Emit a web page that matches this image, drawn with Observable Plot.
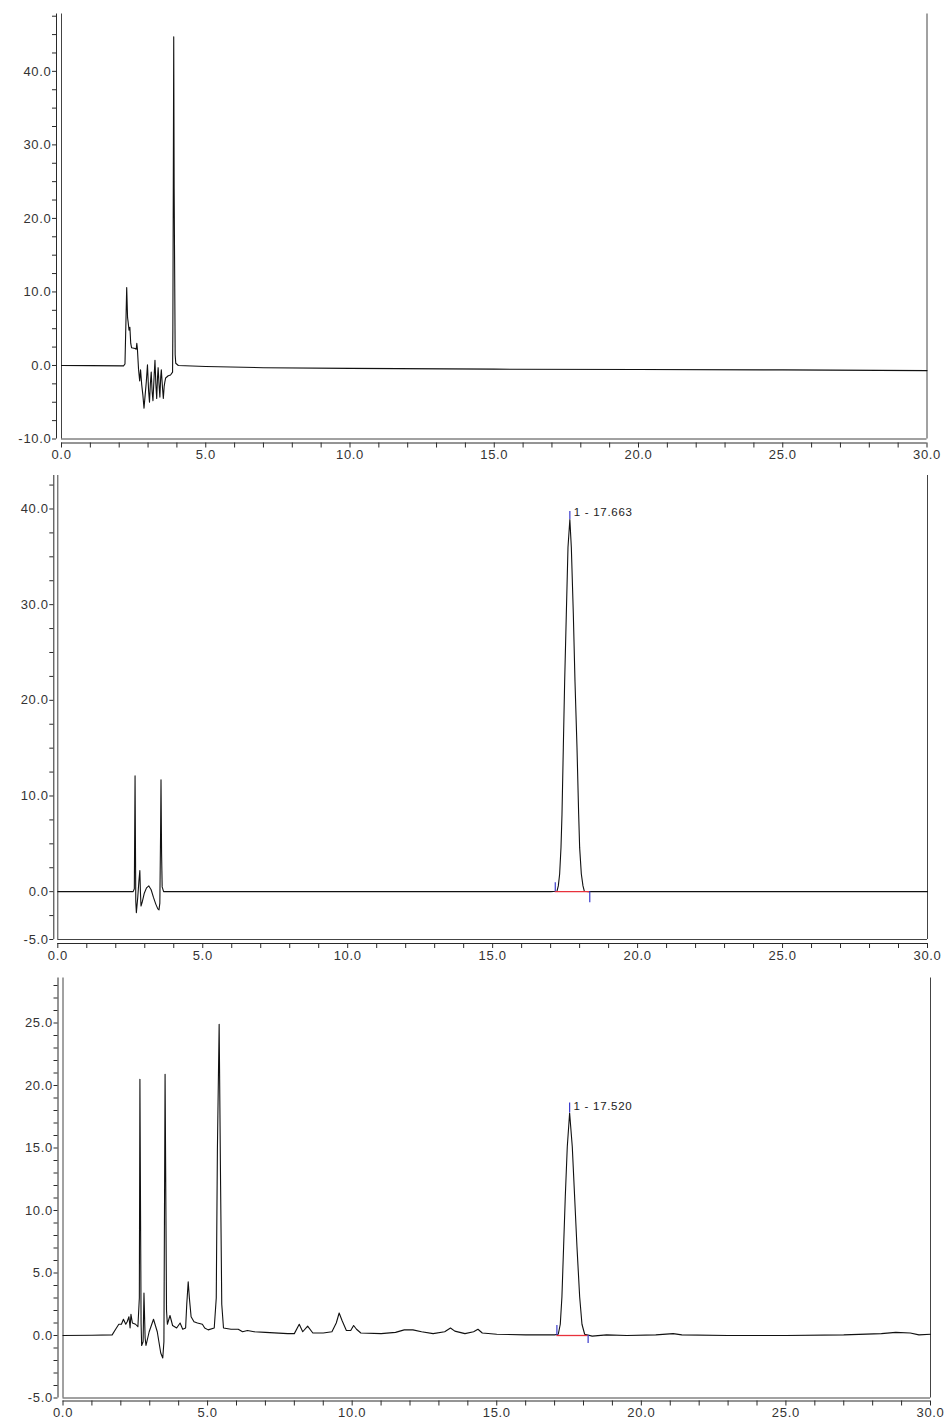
<!DOCTYPE html>
<html>
<head>
<meta charset="utf-8">
<script src="https://cdn.jsdelivr.net/npm/d3@7"></script>
<script src="https://cdn.jsdelivr.net/npm/@observablehq/plot@0.6"></script>
<style>
  body { margin: 0; background: #fff; }
  svg { display: block; }
  svg text { letter-spacing: 0.7px; }
</style>
</head>
<body>
<div id="p1"></div>
<div id="p2"></div>
<div id="p3"></div>
<script>
// ---------- Data (retention time in min, signal in mAU) ----------
// Panel 1: blank
const blankTime = [0, 1.0, 2.15, 2.2, 2.26, 2.29, 2.31, 2.34, 2.37, 2.40, 2.43, 2.55, 2.59, 2.61, 2.63, 2.67, 2.71, 2.74, 2.78, 2.82, 2.86, 2.90, 2.94, 2.98, 3.02, 3.05, 3.08, 3.11, 3.14, 3.17, 3.21, 3.24, 3.27, 3.30, 3.33, 3.35, 3.38, 3.41, 3.44, 3.46, 3.50, 3.53, 3.56, 3.58, 3.61, 3.64, 3.70, 3.78, 3.85, 3.86, 3.875, 3.89, 3.905, 3.92, 3.94, 3.96, 4.05, 5, 7, 10, 15, 20, 25, 30];
const blankSignal = [0, -0.02, -0.05, 0.2, 10.6, 6.5, 5.9, 4.8, 5.2, 3.0, 2.4, 2.3, 2.2, 3.0, 2.3, -0.5, -2.1, -0.6, -2.6, -4.0, -5.8, -4.0, -2.2, 0.1, -3.5, -5.0, -2.5, -0.9, -3.5, -4.8, -1.5, 0.7, -2.5, -4.5, -1.5, -0.3, -2.5, -4.3, -1.5, -0.6, -3.0, -4.5, -2.8, -2.3, -1.7, -1.6, -1.4, -1.3, -0.9, 5.0, 24, 44.7, 24, 14, 1.5, 0.3, 0.0, -0.15, -0.3, -0.4, -0.5, -0.55, -0.6, -0.7];

// Panel 2: standard
const stdTime = [0, 2.60, 2.64, 2.665, 2.69, 2.71, 2.76, 2.80, 2.83, 2.85, 2.87, 2.92, 2.98, 3.06, 3.14, 3.22, 3.30, 3.38, 3.45, 3.49, 3.52, 3.545, 3.56, 3.58, 3.60, 3.65, 10, 17.0, 17.219, 17.265, 17.311, 17.357, 17.392, 17.438, 17.484, 17.541, 17.599, 17.663, 17.714, 17.783, 17.840, 17.909, 17.967, 18.001, 18.059, 18.116, 18.162, 18.3, 25, 30];
const stdSignal = [0, 0, 0.3, 12.1, -1.0, -2.2, -0.5, 1.2, 2.2, 0, -1.5, -1.0, -0.2, 0.4, 0.6, 0.2, -0.6, -1.3, -1.8, -1.9, -1.2, 6, 11.7, 4, 0.5, 0, 0, 0, 0.05, 0.6, 1.85, 4.6, 8.1, 15.1, 22.0, 29.0, 36.0, 38.9, 36.0, 29.0, 22.0, 15.1, 8.1, 4.6, 1.85, 0.6, 0.05, 0, 0, 0];

// Panel 3: sample
const sampleTime = [0, 1.0, 1.70, 1.82, 1.93, 2.02, 2.09, 2.17, 2.22, 2.28, 2.32, 2.35, 2.40, 2.51, 2.59, 2.64, 2.66, 2.70, 2.72, 2.77, 2.80, 2.84, 2.87, 2.98, 3.13, 3.26, 3.38, 3.45, 3.49, 3.53, 3.58, 3.61, 3.70, 3.79, 3.86, 3.93, 4.05, 4.14, 4.24, 4.28, 4.33, 4.37, 4.43, 4.53, 4.65, 4.82, 4.90, 5.02, 5.23, 5.30, 5.34, 5.40, 5.45, 5.49, 5.55, 5.81, 6.06, 6.21, 6.38, 6.61, 7.0, 7.77, 8.0, 8.17, 8.29, 8.46, 8.64, 9.0, 9.3, 9.45, 9.55, 9.65, 9.8, 9.95, 10.05, 10.15, 10.3, 11.0, 11.5, 11.8, 12.1, 12.4, 12.8, 13.2, 13.4, 13.55, 13.9, 14.2, 14.35, 14.5, 15, 16, 17.0, 17.127, 17.197, 17.254, 17.312, 17.370, 17.439, 17.52, 17.612, 17.693, 17.774, 17.867, 17.947, 18.04, 18.3, 18.8, 19.5, 20.5, 21.1, 21.4, 23, 25, 27, 28.3, 28.8, 29.3, 29.6, 30];
const sampleSignal = [0, 0.02, 0.05, 0.5, 0.9, 0.9, 1.3, 0.9, 1.1, 1.5, 0.6, 1.7, 1.0, 0.9, 0.7, 3, 20.5, 1.0, -0.8, -0.5, 3.4, -0.2, -0.8, 0.3, 1.3, 0.3, -1.4, -1.8, -0.5, 20.9, 2.0, 0.9, 1.6, 0.8, 0.7, 0.6, 1.0, 0.5, 0.6, 2.5, 4.3, 3.0, 1.5, 1.1, 1.0, 0.9, 0.6, 0.45, 0.6, 3, 15, 24.9, 12, 2.5, 0.6, 0.5, 0.5, 0.3, 0.4, 0.3, 0.25, 0.15, 0.15, 0.9, 0.3, 0.75, 0.2, 0.2, 0.3, 1.0, 1.8, 1.2, 0.4, 0.4, 0.8, 0.5, 0.2, 0.15, 0.25, 0.45, 0.45, 0.3, 0.15, 0.3, 0.6, 0.35, 0.15, 0.3, 0.5, 0.2, 0.1, 0.05, 0.05, 0.1, 0.9, 3.1, 7.1, 11.1, 15.1, 17.8, 15.1, 11.1, 7.1, 3.1, 0.9, 0.1, -0.05, 0.05, 0.0, 0.05, 0.15, 0.05, 0.0, 0.0, 0.05, 0.15, 0.25, 0.2, 0.05, 0.1];

// Integrated peaks: label, retention time, height, integration start, end
const stdPeakLabel = ["1 - 17.663"];
const stdPeakRT = [17.663];
const stdPeakHeight = [38.9];
const stdPeakStart = [17.16];
const stdPeakEnd = [18.35];

const samplePeakLabel = ["1 - 17.520"];
const samplePeakRT = [17.52];
const samplePeakHeight = [17.8];
const samplePeakStart = [17.08];
const samplePeakEnd = [18.16];

// Tick values
const xTicks = [0,1,2,3,4,5,6,7,8,9,10,11,12,13,14,15,16,17,18,19,20,21,22,23,24,25,26,27,28,29,30];
const xLabels = [0, 5, 10, 15, 20, 25, 30];
const blankYTicks = [-10,-7.5,-5,-2.5,0,2.5,5,7.5,10,12.5,15,17.5,20,22.5,25,27.5,30,32.5,35,37.5,40,42.5,45,47.5];
const blankYLabels = [-10, 0, 10, 20, 30, 40];
const stdYTicks = [-5,-2.5,0,2.5,5,7.5,10,12.5,15,17.5,20,22.5,25,27.5,30,32.5,35,37.5,40,42.5];
const stdYLabels = [-5, 0, 10, 20, 30, 40];
const sampleYTicks = [-5,-4,-3,-2,-1,0,1,2,3,4,5,6,7,8,9,10,11,12,13,14,15,16,17,18,19,20,21,22,23,24,25,26,27,28];
const sampleYLabels = [-5, 0, 5, 10, 15, 20, 25];

// ---------- Drawing ----------
function zip(t, v) { return t.map((d, i) => ({t: d, v: v[i]})); }

function panel(cfg) {
  const [y0, y1] = cfg.yDomain;
  const ink = "#2a2a2a";
  const marks = [
    // frame
    Plot.ruleX([0, 30], {y1: y0, y2: y1, stroke: "#444", strokeWidth: 1}),
    Plot.ruleY([y0], {x1: 0, x2: 30, stroke: "#444", strokeWidth: 1}),
    // outer axis lines
    Plot.ruleX([0], {y1: y0, y2: y1, dx: cfg.axDx, stroke: ink, strokeWidth: 1}),
    Plot.ruleY([y0], {x1: 0, x2: 30, dy: cfg.axDy, stroke: ink, strokeWidth: 1}),
    Plot.axisY({
      ticks: cfg.yTicks,
      tickFormat: d => cfg.yLabels.some(l => Math.abs(l - d) < 1e-9) ? d.toFixed(1) : "",
      tickSize: 4, tickPadding: 1, dx: cfg.axDx, label: null,
      fontSize: 13, fill: "#333", stroke: ink
    }),
    Plot.axisX({
      ticks: xTicks,
      tickFormat: d => xLabels.includes(d) ? d.toFixed(1) : "",
      tickSize: 5, tickPadding: 2, dy: cfg.axDy, label: null,
      fontSize: 13, fill: "#333", stroke: ink
    })
  ];
  marks.push(Plot.line(zip(cfg.time, cfg.signal), {x: "t", y: "v", stroke: "#111", strokeWidth: 1.1}));
  if (cfg.peak) {
    const p = cfg.peak;
    const rows = p.label.map((l, i) => ({label: l, rt: p.rt[i], h: p.h[i]}));
    marks.push(
      Plot.ruleY([0], {x1: p.start[0], x2: p.end[0], stroke: "#e8323c", strokeWidth: 1.3}),
      Plot.ruleX(p.start, {y1: 0, y2: 0, insetBottom: cfg.tickUp, stroke: "#3a3acc", strokeWidth: 1.2}),
      Plot.ruleX(p.end, {y1: 0, y2: 0, insetTop: cfg.tickDown, stroke: "#3a3acc", strokeWidth: 1.2}),
      Plot.ruleX(rows, {x: "rt", y1: "h", y2: "h", insetBottom: cfg.apexTick, stroke: "#3a3acc", strokeWidth: 1.2}),
      Plot.text(rows, {x: "rt", y: "h", text: "label", dx: 4, dy: -7, textAnchor: "start", fontSize: 11.5, fill: "#222"})
    );
  }
  return Plot.plot({
    width: 946,
    height: cfg.height,
    marginTop: cfg.mt, marginBottom: cfg.mb, marginLeft: cfg.ml, marginRight: cfg.mr,
    x: {domain: [0, 30], axis: null},
    y: {domain: cfg.yDomain, axis: null},
    style: {fontFamily: "'Liberation Sans', Arial, sans-serif", fontSize: "13px", background: "#fff", overflow: "visible"},
    marks
  });
}

document.getElementById("p1").append(panel({
  time: blankTime, signal: blankSignal,
  yDomain: [-10, 47.8], yTicks: blankYTicks, yLabels: blankYLabels,
  height: 468, mt: 13.5, mb: 29.5, ml: 61, mr: 19.5, axDx: -5, axDy: 4
}));

document.getElementById("p2").append(panel({
  time: stdTime, signal: stdSignal,
  yDomain: [-5, 43.5], yTicks: stdYTicks, yLabels: stdYLabels,
  height: 496, mt: 7, mb: 25, ml: 57.3, mr: 19, axDx: -4, axDy: 4,
  peak: {label: stdPeakLabel, rt: stdPeakRT, h: stdPeakHeight, start: stdPeakStart, end: stdPeakEnd},
  tickUp: 9, tickDown: 11, apexTick: 8
}));

document.getElementById("p3").append(panel({
  time: sampleTime, signal: sampleSignal,
  yDomain: [-5, 28.6], yTicks: sampleYTicks, yLabels: sampleYLabels,
  height: 459, mt: 13.5, mb: 25.5, ml: 62.5, mr: 16, axDx: -5, axDy: 3,
  peak: {label: samplePeakLabel, rt: samplePeakRT, h: samplePeakHeight, start: samplePeakStart, end: samplePeakEnd},
  tickUp: 10, tickDown: 8, apexTick: 10
}));
</script>
</body>
</html>
